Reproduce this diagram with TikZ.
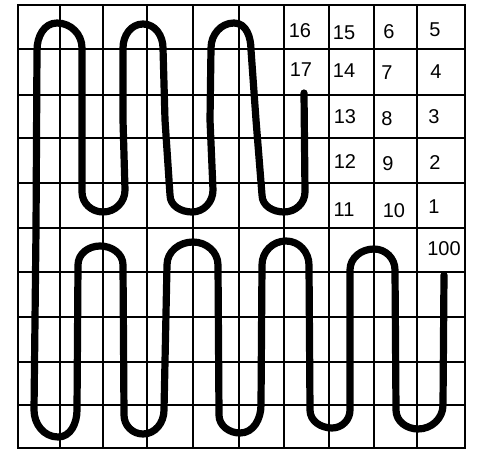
\documentclass[tikz,border=0pt]{standalone}
\usepackage{fontspec}
\setmainfont{Liberation Sans}
\begin{document}
\begin{tikzpicture}[x=1pt,y=1pt,
  gridline/.style={line width=1.7pt, black},
  border/.style={line width=2.5pt, black},
  snake/.style={line width=7.2pt, black, line cap=round, line join=round},
  num/.style={font=\fontsize{20}{22}\selectfont, inner sep=0pt}]
\useasboundingbox (0,0) rectangle (477,-452);
\fill[white] (0,0) rectangle (477,-452);
% grid
\foreach \x in {60,103,147,193,239,284,329,374,417}
  \draw[gridline] (\x,-5) -- (\x,-448);
\foreach \y in {49,95,138,183,228,272,317,362,405}
  \draw[gridline] (18,-\y) -- (465,-\y);
\draw[border] (18,-5) rectangle (465,-448);
% snake
\draw[snake] (304,-93) -- (305,-192) to[out=-90,in=0] (284,-212)
  to[out=180,in=-90] (262,-195) -- (256,-120) -- (251,-50)
  to[out=90,in=0] (234,-23) to[out=180,in=90] (211,-48)
  -- (210,-120) -- (213,-190) to[out=-90,in=0] (192,-212)
  to[out=180,in=-90] (170,-195) -- (165,-120) -- (163,-48)
  to[out=90,in=0] (143,-24) to[out=180,in=90] (123,-48)
  -- (123,-120) -- (125,-190) to[out=-90,in=0] (103,-212)
  to[out=180,in=-90] (82,-192) -- (82,-48)
  to[out=90,in=0] (57,-23) to[out=180,in=90] (37,-50)
  -- (36,-230) -- (34,-410) to[out=-90,in=180] (58,-437)
  to[out=0,in=-90] (77,-410) -- (78,-265)
  to[out=90,in=180] (100,-246) to[out=0,in=90] (123,-265)
  -- (124,-415) to[out=-90,in=180] (143,-434)
  to[out=0,in=-90] (164,-410) -- (167,-265)
  to[out=90,in=180] (193,-242) to[out=0,in=90] (218,-265)
  -- (219,-415) to[out=-90,in=180] (240,-433)
  to[out=0,in=-90] (261,-405) -- (262,-265)
  to[out=90,in=180] (286,-241) to[out=0,in=90] (309,-265)
  -- (310,-410) to[out=-90,in=180] (332,-428)
  to[out=0,in=-90] (350,-410) -- (350,-270)
  to[out=90,in=180] (374,-249) to[out=0,in=90] (395,-270)
  -- (396,-410) to[out=-90,in=180] (418,-429)
  to[out=0,in=-90] (443,-405) -- (444,-275);
% numbers
\node[num] (n16) at (300,-31) {16};
\node[num] (n15) at (344,-33) {15};
\node[num] (n6)  at (389,-32) {6};
\node[num] (n5)  at (435,-30) {5};
\node[num] (n17) at (301,-70) {17};
\node[num] (n14) at (344,-71) {14};
\node[num] (n7)  at (387,-73) {7};
\node[num] (n4)  at (436,-72) {4};
\node[num] (n13) at (345,-117) {13};
\node[num] (n8)  at (387,-119) {8};
\node[num] (n3)  at (434,-117) {3};
\node[num] (n12) at (345,-162) {12};
\node[num] (n9)  at (388,-164) {9};
\node[num] (n2)  at (435,-163) {2};
\node[num] (n11) at (344,-210) {11};
\node[num] (n10) at (394,-211) {10};
\node[num] (n1)  at (434,-207) {1};
\node[num] (n100) at (444,-249) {100};
\end{tikzpicture}
\end{document}
